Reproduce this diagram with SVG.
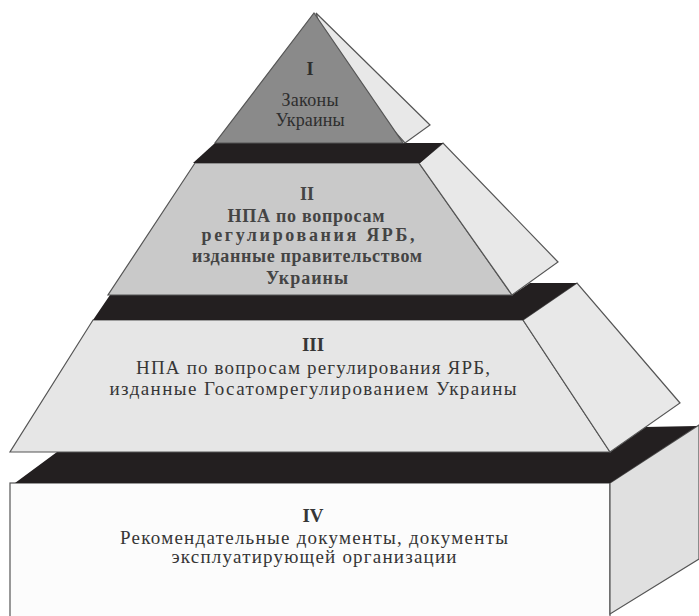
<svg xmlns="http://www.w3.org/2000/svg" width="699" height="616" viewBox="0 0 699 616">
  <style>
    .edge { stroke: #555555; stroke-width: 1.2; stroke-linejoin: miter; }
    .band { fill: #231f20; stroke: none; }
    .face { fill: #e8e8e8; }
    .lbl { font-family: "Liberation Serif", "Times New Roman", serif; fill: #363636; text-anchor: middle; font-size: 19px; }
    .num { font-weight: bold; }
    .t1 { font-size: 18px; fill: #2e2e2e; }
    .t2 { font-weight: bold; fill: #444444; font-size: 18px; }
  </style>
  <rect width="699" height="616" fill="#ffffff"/>

  <!-- Level IV: base block -->
  <g id="level-4">
    <rect class="edge" x="10" y="483" width="600" height="140" fill="#fcfcfc"/>
    <polygon class="edge" points="610,483 699,425 699,559 610,614" fill="#e0e0e0"/>
    <polygon class="band" points="57,452 610,452 645,427 697,426 610,483 15,483"/>
    <text class="lbl num" x="313" y="522">IV</text>
    <text class="lbl" x="314" y="544" textLength="388" lengthAdjust="spacing">Рекомендательные документы, документы</text>
    <text class="lbl" x="314" y="563" textLength="285" lengthAdjust="spacing">эксплуатирующей организации</text>
  </g>

  <!-- Level III -->
  <g id="level-3">
    <polygon class="edge" points="93,320 523,320 610,452 10,452" fill="#e6e6e6"/>
    <polygon class="edge face" points="523,320 577,283 680,403 610,452" fill="#ebebeb"/>
    <polygon class="band" points="110,295 512,295 530,283 577,283 523,320 93,320"/>
    <text class="lbl num" x="313" y="351">III</text>
    <text class="lbl" x="313" y="374" textLength="354" lengthAdjust="spacing">НПА по вопросам регулирования ЯРБ,</text>
    <text class="lbl" x="313" y="395" textLength="407" lengthAdjust="spacing">изданные Госатомрегулированием Украины</text>
  </g>

  <!-- Level II -->
  <g id="level-2">
    <polygon class="edge" points="195,163 419,163 512,295 108,295" fill="#c9c9c9"/>
    <polygon class="edge face" points="419,163 443,143 558,262 512,295"/>
    <polygon class="band" points="215,143 443,143 420,163 193,163"/>
    <text class="lbl num t2" x="307" y="200">II</text>
    <text class="lbl t2" x="306" y="222" textLength="157" lengthAdjust="spacing">НПА по вопросам</text>
    <text class="lbl t2" x="308" y="241" textLength="213" lengthAdjust="spacing">регулирования ЯРБ,</text>
    <text class="lbl t2" x="307" y="262" textLength="230" lengthAdjust="spacing">изданные правительством</text>
    <text class="lbl t2" x="307" y="284" textLength="82" lengthAdjust="spacing">Украины</text>
  </g>

  <!-- Level I: apex -->
  <g id="level-1">
    <polygon class="edge face" points="316,13 430,125 405,143 330,60"/>
    <polygon class="edge" points="314,13 403,143 215,143" fill="#8a8a8a"/>
    <text class="lbl num t1" x="310" y="75">I</text>
    <text class="lbl t1" x="310" y="106" textLength="57" lengthAdjust="spacing">Законы</text>
    <text class="lbl t1" x="310" y="126" textLength="69" lengthAdjust="spacing">Украины</text>
  </g>

  <g id="connectors"></g>
</svg>
